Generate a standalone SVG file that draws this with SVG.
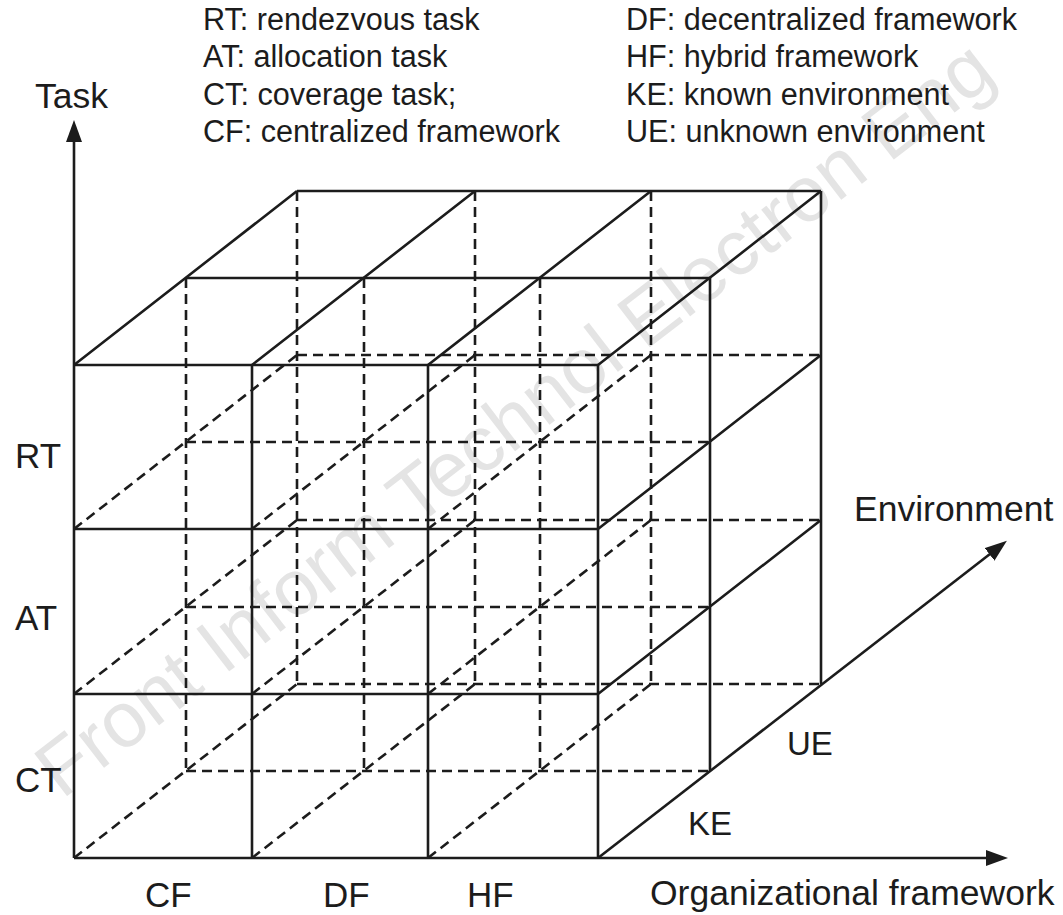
<svg xmlns="http://www.w3.org/2000/svg" width="1063" height="915" viewBox="0 0 1063 915">
  <defs>
    <style>
      .s { stroke: #1c1c1c; stroke-width: 2.6; fill: none; stroke-linecap: butt; }
      .d { stroke: #1c1c1c; stroke-width: 2.6; fill: none; stroke-dasharray: 10 6; }
      .t { font-family: "Liberation Sans", Arial, sans-serif; fill: #1c1c1c; }
      .lg { font-size: 30.6px; }
      .lb { font-size: 35px; }
      .ax { font-size: 35.5px; }
      .wm { font-family: "Liberation Sans", Arial, sans-serif; font-size: 78px; fill: #e4e4e4; }
    </style>
    <marker id="ah" markerUnits="userSpaceOnUse" markerWidth="24" markerHeight="18" refX="12" refY="8" orient="auto">
      <path d="M0,0 L22,8 L0,16 z" fill="#1c1c1c"/>
    </marker>
  </defs>
  <rect width="1063" height="915" fill="#ffffff"/>

  <text class="wm" x="62" y="800" transform="rotate(-37.6 62 800)">Front Inform Technol Electron Eng</text>

  <g id="connectors">
    <g id="hidden-lines">
      <path class="d" d="M186,278 V771 M364,278 V771 M540,278 V771"/>
      <path class="d" d="M297,191 V684 M475,191 V684 M651,191 V684"/>
      <path class="d" d="M186,442 H710 M186,607 H710 M186,771 H710"/>
      <path class="d" d="M297,355 H821 M297,520 H821 M297,684 H821"/>
      <path class="d" d="M74,529 L297,355 M74,694 L297,520 M74,858 L297,684"/>
      <path class="d" d="M252,529 L475,355 M252,694 L475,520 M252,858 L475,684"/>
      <path class="d" d="M428,529 L651,355 M428,694 L651,520 M428,858 L651,684"/>
    </g>
    <g id="visible-lines">
      <path class="s" d="M252,365 V858 M428,365 V858 M598,365 V858"/>
      <path class="s" d="M74,365 H598 M74,529 H598 M74,694 H598"/>
      <path class="s" d="M186,278 H710 M297,191 H821"/>
      <path class="s" d="M74,365 L297,191 M252,365 L475,191 M428,365 L651,191 M598,365 L821,191"/>
      <path class="s" d="M710,278 V771 M821,191 V684"/>
      <path class="s" d="M598,529 L821,355 M598,694 L821,520"/>
    </g>
    <g id="axes">
      <line class="s" x1="74" y1="858" x2="74" y2="130" marker-end="url(#ah)"/>
      <line class="s" x1="74" y1="858" x2="998" y2="858" marker-end="url(#ah)"/>
      <line class="s" x1="598" y1="858" x2="999" y2="547" marker-end="url(#ah)"/>
    </g>
  </g>

  <g id="legend">
    <text class="t lg" x="203" y="30">RT: rendezvous task</text>
    <text class="t lg" x="203" y="67">AT: allocation task</text>
    <text class="t lg" x="203" y="105">CT: coverage task;</text>
    <text class="t lg" x="203" y="142">CF: centralized framework</text>
    <text class="t lg" x="626" y="30">DF: decentralized framework</text>
    <text class="t lg" x="626" y="67">HF: hybrid framework</text>
    <text class="t lg" x="626" y="105">KE: known environment</text>
    <text class="t lg" x="626" y="142">UE: unknown environment</text>
  </g>

  <g id="axis-task"><text class="t ax" x="35" y="108">Task</text></g>
  <g id="axis-org"><text class="t ax" x="650" y="905">Organizational framework</text></g>
  <g id="axis-env"><text class="t ax" x="854" y="521">Environment</text></g>

  <g id="label-RT"><text class="t lb" x="15" y="468">RT</text></g>
  <g id="label-AT"><text class="t lb" x="15" y="630">AT</text></g>
  <g id="label-CT"><text class="t lb" x="15" y="792">CT</text></g>

  <g id="label-CF"><text class="t lb" x="145" y="907">CF</text></g>
  <g id="label-DF"><text class="t lb" x="323" y="907">DF</text></g>
  <g id="label-HF"><text class="t lb" x="467" y="907">HF</text></g>

  <g id="label-KE"><text class="t" style="font-size:33px" x="688" y="835">KE</text></g>
  <g id="label-UE"><text class="t" style="font-size:33px" x="787" y="755">UE</text></g>
</svg>
